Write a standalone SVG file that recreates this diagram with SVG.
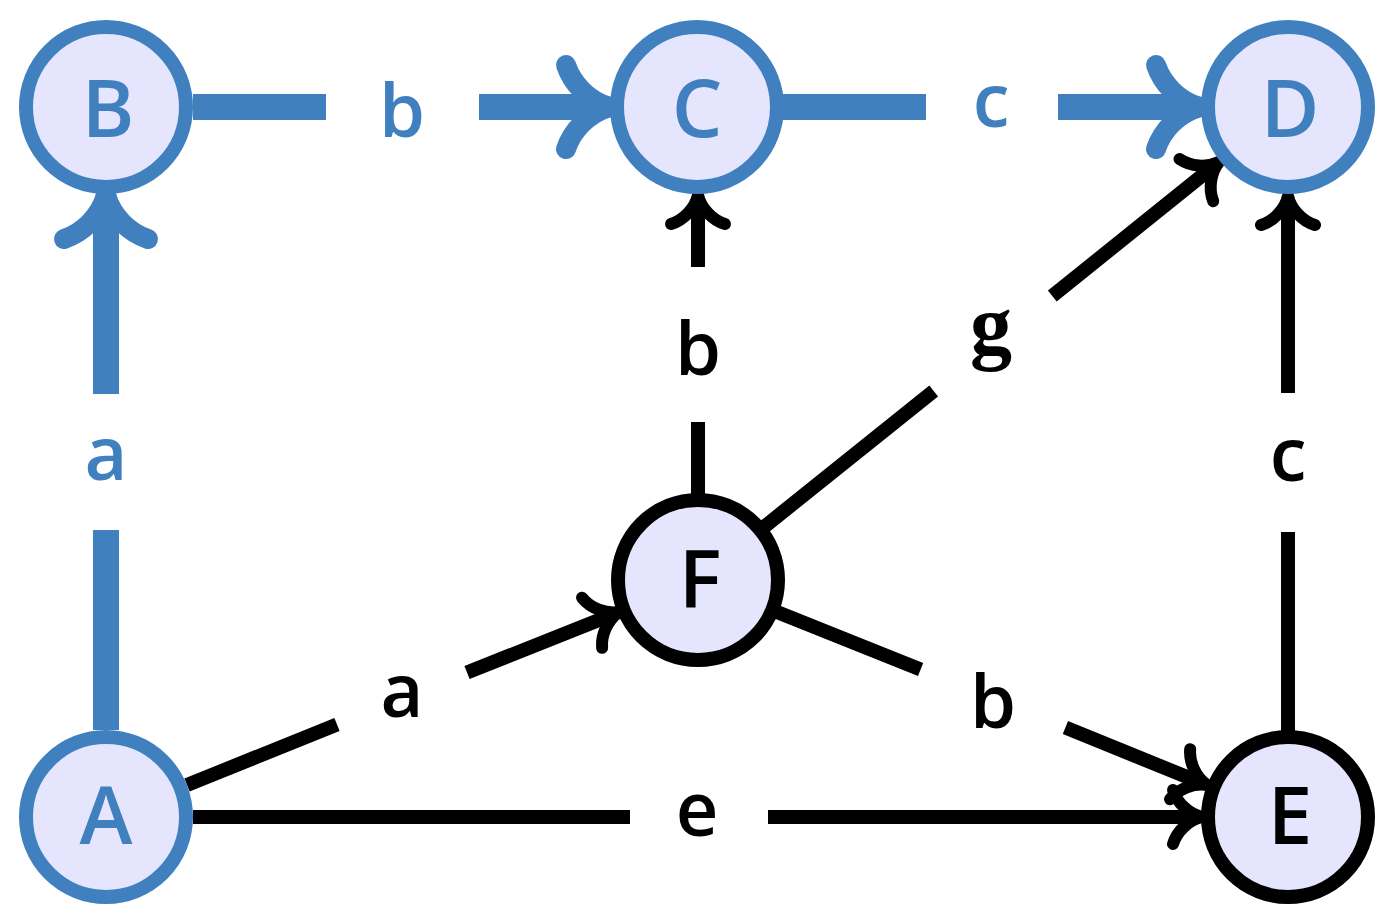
<svg xmlns="http://www.w3.org/2000/svg" xmlns:xlink="http://www.w3.org/1999/xlink" width="1397" height="920" viewBox="0 0 1397 920">
<style>
.eb{fill:none;stroke:#4080bf;stroke-width:26;stroke-linecap:butt}
.ek{fill:none;stroke:#000;stroke-width:14;stroke-linecap:butt}
.ahb{fill:none;stroke:#4080bf;stroke-width:20;stroke-linecap:round;stroke-linejoin:round}
.ahk{fill:none;stroke:#000;stroke-width:12;stroke-linecap:round;stroke-linejoin:round}
.nb{fill:#e5e5fd;stroke:#4080bf;stroke-width:14}
.nk{fill:#e5e5fd;stroke:#000;stroke-width:14}
.tn{font-family:"Open Sans","DejaVu Sans",sans-serif;font-weight:600;font-size:80px;text-anchor:middle}
.tl{font-family:"Open Sans","DejaVu Sans",sans-serif;font-weight:600;font-size:74px;text-anchor:middle}
.tg{font-family:"Liberation Serif","DejaVu Serif",serif;font-weight:700;font-size:84px;text-anchor:middle}
.bl{fill:#4080bf}
.bk{fill:#000}
</style>
<defs>
<path id="ahB" class="ahb" d="M-44,-42 C-38,-24 -22,-6 0,0 C-22,6 -38,24 -44,42"/>
<path id="ahK" class="ahk" d="M-29,-27 C-25,-14 -13,-3 0,0 C-13,3 -25,14 -29,27"/>
</defs>
<g id="connectors">
<path class="eb" d="M106,730 V530 M106,394 V201"/>
<use xlink:href="#ahB" href="#ahB" transform="translate(106,195) rotate(-90)"/>
<path class="eb" d="M193,107 H326 M479,107 H604"/>
<use xlink:href="#ahB" href="#ahB" transform="translate(610,107)"/>
<path class="eb" d="M783,107 H926 M1058,107 H1194"/>
<use xlink:href="#ahB" href="#ahB" transform="translate(1200,107)"/>
<path class="ek" d="M698,496 V422 M698,267 V201"/>
<use xlink:href="#ahK" href="#ahK" transform="translate(698,195) rotate(-90)"/>
<path class="ek" d="M764,527 L933.7,391 M1052.3,296 L1214.3,165.8"/>
<use xlink:href="#ahK" href="#ahK" transform="translate(1219,162) rotate(-38.7)"/>
<path class="ek" d="M187,785 L337,724.5 M467,672.5 L613.4,614.2"/>
<use xlink:href="#ahK" href="#ahK" transform="translate(619,612) rotate(-21.8)"/>
<path class="ek" d="M777,612 L920.6,669.4 M1065.4,727.6 L1201.4,782.8"/>
<use xlink:href="#ahK" href="#ahK" transform="translate(1207,785) rotate(21.9)"/>
<path class="ek" d="M193,817 H630 M768,817 H1196"/>
<use xlink:href="#ahK" href="#ahK" transform="translate(1202,817)"/>
<path class="ek" d="M1288,732 V532 M1288,393 V202"/>
<use xlink:href="#ahK" href="#ahK" transform="translate(1288,196) rotate(-90)"/>
<text class="tl bl" x="106" y="480">a</text>
<text class="tl bl" x="402" y="137">b</text>
<text class="tl bl" x="991" y="127">c</text>
<text class="tl bk" x="698" y="375">b</text>
<text class="tg bk" x="991" y="354">g</text>
<text class="tl bk" x="402" y="717">a</text>
<text class="tl bk" x="993" y="728">b</text>
<text class="tl bk" x="697" y="836">e</text>
<text class="tl bk" x="1288" y="481">c</text>
</g>
<g id="node-A"><circle class="nb" cx="106" cy="817" r="80"/><text class="tn bl" x="106" y="844">A</text></g>
<g id="node-B"><circle class="nb" cx="106" cy="107" r="80"/><text class="tn bl" x="108" y="137">B</text></g>
<g id="node-C"><circle class="nb" cx="697" cy="107" r="80"/><text class="tn bl" x="697" y="137">C</text></g>
<g id="node-D"><circle class="nb" cx="1288" cy="107" r="80"/><text class="tn bl" x="1290" y="137">D</text></g>
<g id="node-E"><circle class="nk" cx="1288" cy="817" r="80"/><text class="tn bk" x="1290" y="844">E</text></g>
<g id="node-F"><circle class="nk" cx="698" cy="580" r="80"/><text class="tn bk" x="700" y="608">F</text></g>
</svg>
